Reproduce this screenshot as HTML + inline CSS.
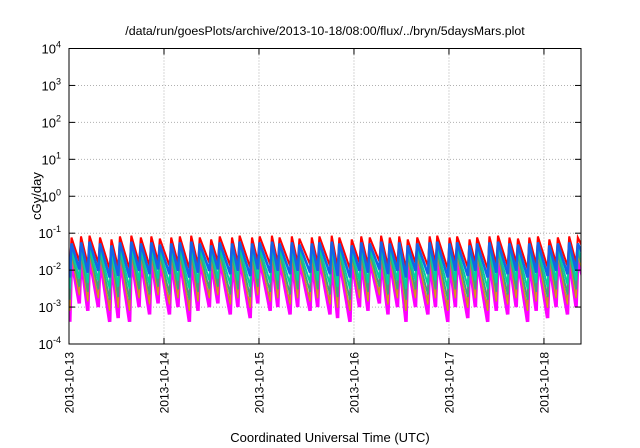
<!DOCTYPE html>
<html><head><meta charset="utf-8"><style>
html,body{margin:0;padding:0;background:#fff;}
svg{display:block;font-family:"Liberation Sans",sans-serif;}
</style></head><body>
<svg id="chart" width="640" height="448" viewBox="0 0 640 448" xmlns="http://www.w3.org/2000/svg">
<rect width="640" height="448" fill="#fff"/>
<text x="325" y="35" font-size="12.4" text-anchor="middle">/data/run/goesPlots/archive/2013-10-18/08:00/flux/../bryn/5daysMars.plot</text>
<text transform="translate(41,196) rotate(-90)" font-size="13" text-anchor="middle">cGy/day</text>
<text x="330" y="442" font-size="13" text-anchor="middle">Coordinated Universal Time (UTC)</text>
<g id="grid"></g>
<defs><clipPath id="pc"><rect x="69" y="48.5" width="512" height="295.5"/></clipPath></defs>
<g id="series" clip-path="url(#pc)"></g>
<g id="axes"></g>
</svg>
<script>
const spikeDays=[0.02,0.12,0.21,0.32,0.44,0.53,0.65,0.75,0.86,0.95,1.07,1.16,1.28,1.37,1.49,1.58,1.71,1.79,1.92,2.00,2.13,2.21,2.34,2.42,2.55,2.63,2.76,2.84,2.97,3.07,3.16,3.28,3.37,3.47,3.56,3.66,3.79,3.87,4.00,4.08,4.21,4.29,4.42,4.51,4.63,4.72,4.84,4.93,5.05,5.14,5.26,5.35];
const endDay=5.5;
const xTickLabels=["2013-10-13","2013-10-14","2013-10-15","2013-10-16","2013-10-17","2013-10-18"];
const yTickExps=[-4,-3,-2,-1,0,1,2,3,4];
const redPeaks=[-1.15,-1.12,-1.1,-1.15,-1.2,-1.12,-1.1,-1.15,-1.12,-1.18,-1.15,-1.12,-1.1,-1.15,-1.2,-1.12,-1.15,-1.1,-1.15,-1.12,-1.1,-1.15,-1.12,-1.18,-1.15,-1.12,-1.1,-1.15,-1.2,-1.12,-1.15,-1.1,-1.15,-1.12,-1.2,-1.15,-1.12,-1.1,-1.15,-1.12,-1.2,-1.15,-1.12,-1.1,-1.15,-1.18,-1.15,-1.12,-1.2,-1.15,-1.12,-1.15];
const redTroughs=[-2.0,-1.8,-1.88,-1.84,-2.0,-1.96,-2.0,-1.84,-1.92,-1.8,-1.92,-1.84,-2.0,-1.88,-1.84,-1.8,-1.92,-1.84,-1.96,-1.8,-1.88,-1.84,-1.92,-1.84,-1.88,-1.84,-1.92,-1.96,-2.0,-1.84,-1.88,-1.8,-1.92,-1.84,-2.0,-1.84,-1.92,-1.84,-2.0,-1.84,-1.96,-1.84,-2.0,-1.88,-1.92,-1.84,-2.0,-1.88,-1.96,-1.84,-1.92,-1.84,-1.9];
const bluePeaks=[-1.28,-1.25,-1.23,-1.28,-1.33,-1.25,-1.23,-1.28,-1.25,-1.31,-1.28,-1.25,-1.23,-1.28,-1.33,-1.25,-1.28,-1.23,-1.28,-1.25,-1.23,-1.28,-1.25,-1.31,-1.28,-1.25,-1.23,-1.28,-1.33,-1.25,-1.28,-1.23,-1.28,-1.25,-1.33,-1.28,-1.25,-1.23,-1.28,-1.25,-1.33,-1.28,-1.25,-1.23,-1.28,-1.31,-1.28,-1.25,-1.33,-1.28,-1.25,-1.28];
const blueTroughs=[-2.2,-1.98,-2.07,-2.02,-2.2,-2.16,-2.2,-2.02,-2.11,-1.98,-2.11,-2.02,-2.2,-2.07,-2.02,-1.98,-2.11,-2.02,-2.16,-1.98,-2.07,-2.02,-2.11,-2.02,-2.07,-2.02,-2.11,-2.16,-2.2,-2.02,-2.07,-1.98,-2.11,-2.02,-2.2,-2.02,-2.11,-2.02,-2.2,-2.02,-2.16,-2.02,-2.2,-2.07,-2.11,-2.02,-2.2,-2.07,-2.16,-2.02,-2.11,-2.02,-2.1];
const tealPeaks=[-1.42,-1.4,-1.38,-1.42,-1.47,-1.4,-1.38,-1.42,-1.4,-1.45,-1.42,-1.4,-1.38,-1.42,-1.47,-1.4,-1.42,-1.38,-1.42,-1.4,-1.38,-1.42,-1.4,-1.45,-1.42,-1.4,-1.38,-1.42,-1.47,-1.4,-1.42,-1.38,-1.42,-1.4,-1.47,-1.42,-1.4,-1.38,-1.42,-1.4,-1.47,-1.42,-1.4,-1.38,-1.42,-1.45,-1.42,-1.4,-1.47,-1.42,-1.4,-1.42];
const tealTroughs=[-2.5,-2.23,-2.34,-2.28,-2.5,-2.45,-2.5,-2.28,-2.39,-2.23,-2.39,-2.28,-2.5,-2.34,-2.28,-2.23,-2.39,-2.28,-2.45,-2.23,-2.34,-2.28,-2.39,-2.28,-2.34,-2.28,-2.39,-2.45,-2.5,-2.28,-2.34,-2.23,-2.39,-2.28,-2.5,-2.28,-2.39,-2.28,-2.5,-2.28,-2.45,-2.28,-2.5,-2.34,-2.39,-2.28,-2.5,-2.34,-2.45,-2.28,-2.39,-2.28,-2.35];
const greenPeaks=[-1.52,-1.5,-1.48,-1.52,-1.57,-1.5,-1.48,-1.52,-1.5,-1.55,-1.52,-1.5,-1.48,-1.52,-1.57,-1.5,-1.52,-1.48,-1.52,-1.5,-1.48,-1.52,-1.5,-1.55,-1.52,-1.5,-1.48,-1.52,-1.57,-1.5,-1.52,-1.48,-1.52,-1.5,-1.57,-1.52,-1.5,-1.48,-1.52,-1.5,-1.57,-1.52,-1.5,-1.48,-1.52,-1.55,-1.52,-1.5,-1.57,-1.52,-1.5,-1.52];
const greenTroughs=[-2.8,-2.45,-2.59,-2.52,-2.8,-2.73,-2.8,-2.52,-2.66,-2.45,-2.66,-2.52,-2.8,-2.59,-2.52,-2.45,-2.66,-2.52,-2.73,-2.45,-2.59,-2.52,-2.66,-2.52,-2.59,-2.52,-2.66,-2.73,-2.8,-2.52,-2.59,-2.45,-2.66,-2.52,-2.8,-2.52,-2.66,-2.52,-2.8,-2.52,-2.73,-2.52,-2.8,-2.59,-2.66,-2.52,-2.8,-2.59,-2.73,-2.52,-2.66,-2.52,-2.6];
const brownPeaks=[-1.6,-1.58,-1.56,-1.6,-1.65,-1.58,-1.56,-1.6,-1.58,-1.63,-1.6,-1.58,-1.56,-1.6,-1.65,-1.58,-1.6,-1.56,-1.6,-1.58,-1.56,-1.6,-1.58,-1.63,-1.6,-1.58,-1.56,-1.6,-1.65,-1.58,-1.6,-1.56,-1.6,-1.58,-1.65,-1.6,-1.58,-1.56,-1.6,-1.58,-1.65,-1.6,-1.58,-1.56,-1.6,-1.63,-1.6,-1.58,-1.65,-1.6,-1.58,-1.6];
const brownTroughs=[-3.1,-2.68,-2.85,-2.76,-3.1,-3.02,-3.1,-2.76,-2.93,-2.68,-2.93,-2.76,-3.1,-2.85,-2.76,-2.68,-2.93,-2.76,-3.02,-2.68,-2.85,-2.76,-2.93,-2.76,-2.85,-2.76,-2.93,-3.02,-3.1,-2.76,-2.85,-2.68,-2.93,-2.76,-3.1,-2.76,-2.93,-2.76,-3.1,-2.76,-3.02,-2.76,-3.1,-2.85,-2.93,-2.76,-3.1,-2.85,-3.02,-2.76,-2.93,-2.76,-2.85];
const magentaPeaks=[-1.68,-1.65,-1.63,-1.68,-1.73,-1.65,-1.63,-1.68,-1.65,-1.7,-1.68,-1.65,-1.63,-1.68,-1.73,-1.65,-1.68,-1.63,-1.68,-1.65,-1.63,-1.68,-1.65,-1.7,-1.68,-1.65,-1.63,-1.68,-1.73,-1.65,-1.68,-1.63,-1.68,-1.65,-1.73,-1.68,-1.65,-1.63,-1.68,-1.65,-1.73,-1.68,-1.65,-1.63,-1.68,-1.7,-1.68,-1.65,-1.73,-1.68,-1.65,-1.68];
const magentaTroughs=[-3.4,-2.9,-3.1,-3.0,-3.4,-3.3,-3.4,-3.0,-3.2,-2.9,-3.2,-3.0,-3.4,-3.1,-3.0,-2.9,-3.2,-3.0,-3.3,-2.9,-3.1,-3.0,-3.2,-3.0,-3.1,-3.0,-3.2,-3.3,-3.4,-3.0,-3.1,-2.9,-3.2,-3.0,-3.4,-3.0,-3.2,-3.0,-3.4,-3.0,-3.3,-3.0,-3.4,-3.1,-3.2,-3.0,-3.4,-3.1,-3.3,-3.0,-3.2,-3.0,-3.1];

const NS="http://www.w3.org/2000/svg";
const X0=69,X1=581,Y0=344,Y1=48.5,DMAX=5.39,EMIN=-4,EMAX=4;
function xs(d){return X0+(d/DMAX)*(X1-X0);}
function ys(e){return Y0-(e-EMIN)/(EMAX-EMIN)*(Y0-Y1);}
function mk(tag,attrs,parent){const el=document.createElementNS(NS,tag);for(const k in attrs)el.setAttribute(k,attrs[k]);parent.appendChild(el);return el;}
const grid=document.getElementById('grid'),axes=document.getElementById('axes'),ser=document.getElementById('series');

yTickExps.forEach(function(e){
  const y=ys(e);
  if(e>EMIN&&e<EMAX){const g=mk('line',{x1:X0,x2:X1,y1:y,y2:y,stroke:'#b0b0b0','stroke-width':1,'stroke-dasharray':'1,2'},grid);
  
  }
  const t1=mk('line',{x1:X0,x2:X0+6,y1:y,y2:y,stroke:'#000'},axes);
  
  
  const t2=mk('line',{x1:X1-6,x2:X1,y1:y,y2:y,stroke:'#000'},axes);
  
  
  const tx=mk('text',{x:X0-8,y:y+5,'font-size':13,'text-anchor':'end'},axes);
  
  
  tx.textContent='10';
  const sp=document.createElementNS(NS,'tspan');sp.setAttribute('dy','-6');sp.setAttribute('font-size','9');sp.textContent=String(e);tx.appendChild(sp);
});
xTickLabels.forEach(function(lab,i){
  const x=xs(i);
  if(i>0){const g=mk('line',{x1:x,x2:x,y1:Y1,y2:Y0,stroke:'#b0b0b0','stroke-width':1,'stroke-dasharray':'1,2'},grid);
  
  }
  const t1=mk('line',{x1:x,x2:x,y1:Y0,y2:Y0-6,stroke:'#000'},axes);
  
  
  const t2=mk('line',{x1:x,x2:x,y1:Y1,y2:Y1+6,stroke:'#000'},axes);
  
  
  const tx=mk('text',{transform:'translate('+(x+4.5)+',352) rotate(-90)','font-size':12,'text-anchor':'end'},axes);
  
  
  tx.textContent=lab;
});
const frame=mk('rect',{x:X0,y:Y1,width:X1-X0,height:Y0-Y1,fill:'none',stroke:'#000','stroke-width':1},axes);



const seriesList=[
  ['magenta-series',magentaPeaks,magentaTroughs,'#ff00ff',3.5],
  ['brown-series',brownPeaks,brownTroughs,'#b07060',1.8],
  ['orange-series',brownPeaks,brownTroughs,'#e8a000',0.8],
  ['green-series',greenPeaks,greenTroughs,'#40a080',1.8],
  ['teal-series',tealPeaks,tealTroughs,'#00d0a0',2],
  ['red-series',redPeaks,redTroughs,'#ff0000',2],
  ['blue-series',bluePeaks,blueTroughs,'#1464e6',2.6]
];
seriesList.forEach(function(s){
  const peaks=s[1],tr=s[2];let pts=[];
  spikeDays.forEach(function(d,i){
    pts.push(xs(d-0.012).toFixed(1)+','+ys(tr[i]).toFixed(1));
    pts.push(xs(d+0.006).toFixed(1)+','+ys(peaks[i]).toFixed(1));
  });
  pts.push(xs(endDay).toFixed(1)+','+ys(tr[spikeDays.length]).toFixed(1));
  const off=(s[0]==='red-series')?-1.2:0;
  const pl=mk('polyline',{points:pts.join(' '),fill:'none',stroke:s[3],'stroke-width':s[4],'stroke-linejoin':'miter',transform:'translate(0,'+off+')'},ser);
  
  
});
</script>
</body></html>
